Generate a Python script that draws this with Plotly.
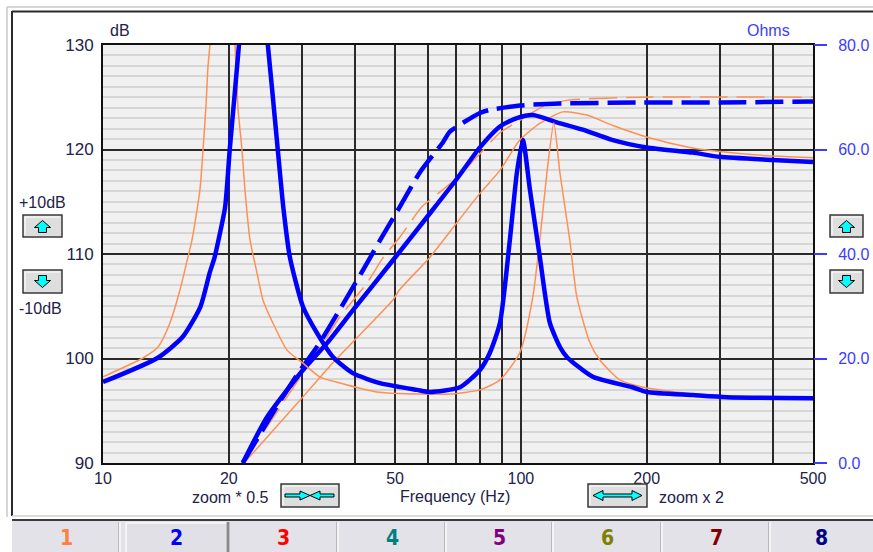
import math
import plotly.graph_objects as go

# ---------------- data ----------------
# Driver 2 (blue): impedance magnitude (Ohms)
imp_blue_f = [10, 13.5, 15.5, 17.1, 18.0, 18.5, 18.9, 19.6, 20.1, 20.7, 21.15, 22.8, 24.8, 25.4,
              26.2, 27.0, 28.0, 30.1, 32.5, 35.5, 39.6, 46.0, 56.4, 60.6, 71.5, 79.8, 84.3, 89.1,
              94.1, 97.8, 101.1, 105.1, 111.0, 117.3, 124.0, 128.8, 148.6, 185, 200, 258, 311, 500]
imp_blue_z = [15.5, 20.1, 24.1, 29.9, 36.4, 39.4, 42.7, 49.0, 59.9, 71.4, 80, 110, 80, 71.4,
              59.9, 49.0, 39.4, 29.9, 24.9, 20.3, 17.2, 15.3, 14.0, 13.6, 14.5, 17.8, 21.1, 26.8,
              42.7, 55.5, 61.8, 52.3, 39.4, 26.8, 22.2, 20.3, 16.5, 14.5, 13.6, 13.0, 12.6, 12.4]

# Driver 2 (blue): SPL, sealed (solid) and vented (dashed), dB
spl_blue_f = [21.6, 24.7, 30.1, 34.4, 39.6, 49.4, 60.6, 70.3, 79.8, 89.1, 97.8, 106.8, 121.9,
              140.6, 166, 200, 257.6, 299, 400, 500]
spl_blue_db = [90.0, 94.4, 98.9, 101.5, 104.6, 109.4, 113.9, 117.2, 120.2, 122.2, 123.0, 123.3,
               122.6, 121.9, 120.9, 120.2, 119.7, 119.3, 119.0, 118.8]
spl_blue_v_f = [21.6, 25.5, 29.1, 33.0, 38.3, 42.8, 46.0, 51.3, 57.3, 65.1, 67.6, 79.8, 84.3,
                99.4, 106.8, 124, 192.6, 299, 500]
spl_blue_v_db = [90.0, 94.8, 98.4, 101.5, 105.8, 109.1, 111.3, 114.5, 117.8, 120.7, 121.7, 123.5,
                 123.8, 124.2, 124.3, 124.4, 124.5, 124.5, 124.6]

# Driver 1 (orange): impedance magnitude (Ohms)
imp_orange_f = [10, 12.46, 13.54, 14.46, 15.28, 15.97, 16.33, 17.06, 17.35, 17.63, 17.83, 18.03,
                19.3, 20.69, 21.03, 21.51, 21.86, 22.48, 23.36, 24.14, 25.5, 27.56, 30.1, 33.0,
                36.9, 45.2, 57.3, 67.6, 79.8, 89.1, 99.4, 106.8, 111.0, 115.4, 119.9, 124.0,
                130.9, 136.1, 146.3, 154.5, 172.5, 195.9, 258, 311, 500]
imp_orange_z = [16.5, 20.1, 22.2, 26.8, 33.1, 39.4, 42.7, 52.3, 59.9, 68.1, 75.8, 80,
                105, 80, 68.1, 59.9, 52.3, 42.7, 36.4, 31.2, 26.8, 21.6, 19.1, 16.5,
                15.3, 13.6, 13.2, 13.2, 14.0, 15.9, 21.1, 31.8, 42.7, 55.5, 65.1, 55.5,
                42.7, 31.8, 23.0, 19.7, 15.9, 14.5, 13.2, 12.8, 12.5]

# Driver 1 (orange): SPL, sealed (solid) and vented (dashed), dB
spl_orange_f = [22.1, 29.6, 35.5, 49.4, 51.3, 60.6, 70.3, 79.8, 89.1, 99.4, 111.0, 126.0, 143.8,
                166, 200, 253.6, 299, 388, 440, 500]
spl_orange_db = [90.3, 96.0, 99.6, 105.6, 106.6, 109.7, 113.0, 115.8, 118.0, 120.9, 122.5, 123.6,
                 123.3, 122.3, 121.2, 120.2, 119.8, 119.4, 119.3, 119.2]
spl_orange_v_f = [21.6, 34.4, 36.9, 42.8, 46.7, 51.3, 55.2, 57.9, 69.5, 78.5, 89.1, 99.4, 112.9,
                  128.8, 192.6, 500]
spl_orange_v_db = [90.0, 102.1, 104.0, 107.2, 109.6, 111.6, 113.4, 114.5, 117.1, 119.3, 121.6,
                   122.8, 124.1, 124.7, 125.0, 125.0]

# axis ticks
freq_tickvals = [10, 20, 30, 40, 50, 60, 70, 80, 90, 100, 200, 300, 400, 500]
freq_ticktext = ["10", "20", "", "", "50", "", "", "", "", "100", "200", "", "", "500"]
db_tickvals = [90, 100, 110, 120, 130]
ohm_tickvals = [0, 20, 40, 60, 80]
ohm_ticktext = ["0.0", "20.0", "40.0", "60.0", "80.0"]
db_mid_lines = [95, 105, 115, 125]

tab_labels = ["1", "2", "3", "4", "5", "6", "7", "8"]
tab_colors = ["#ff8040", "#0000ff", "#ff0000", "#008080", "#800080", "#808000", "#800000", "#000080"]

# ---------------- geometry helpers ----------------
W, H = 873, 552
ML, MR, MT, MB = 103, 60, 45, 89
PW, PH = W - ML - MR, H - MT - MB


def px(x):
    return (x - ML) / PW


def py(y):
    return (H - MB - y) / PH


def path(points):
    return "M " + " L ".join(f"{px(x):.5f},{py(y):.5f}" for x, y in points) + " Z"


BLUE = "#0000ff"
ORANGE = "#ff9055"
FONT = "Liberation Sans, Arial, sans-serif"
TXT = "#22224a"
SMOOTH = 0.6

fig = go.Figure()

# orange (driver 1) first, blue (driver 2) on top
fig.add_trace(go.Scatter(x=imp_orange_f, y=imp_orange_z, yaxis="y2", mode="lines",
                         line=dict(color=ORANGE, width=1.5, shape="spline", smoothing=SMOOTH),
                         hoverinfo="skip"))
fig.add_trace(go.Scatter(x=spl_orange_f, y=spl_orange_db, mode="lines",
                         line=dict(color=ORANGE, width=1.5, shape="spline", smoothing=SMOOTH),
                         hoverinfo="skip"))
fig.add_trace(go.Scatter(x=spl_orange_v_f, y=spl_orange_v_db, mode="lines",
                         line=dict(color=ORANGE, width=1.5, dash="28px,9px", shape="spline",
                                   smoothing=SMOOTH), hoverinfo="skip"))
fig.add_trace(go.Scatter(x=imp_blue_f, y=imp_blue_z, yaxis="y2", mode="lines",
                         line=dict(color=BLUE, width=4.5, shape="spline", smoothing=SMOOTH),
                         hoverinfo="skip"))
fig.add_trace(go.Scatter(x=spl_blue_f, y=spl_blue_db, mode="lines",
                         line=dict(color=BLUE, width=4.5, shape="spline", smoothing=SMOOTH),
                         hoverinfo="skip"))
fig.add_trace(go.Scatter(x=spl_blue_v_f, y=spl_blue_v_db, mode="lines",
                         line=dict(color=BLUE, width=4.5, dash="28px,9px", shape="spline",
                                   smoothing=SMOOTH), hoverinfo="skip"))

shapes = []
# 5 dB intermediate grid lines
for v in db_mid_lines:
    shapes.append(dict(type="line", xref="paper", yref="y", x0=0, x1=1, y0=v, y1=v,
                       line=dict(color="#8e8e8e", width=1.5), layer="between"))

# window frame
shapes += [
    dict(type="line", xref="paper", yref="paper", x0=px(7), x1=px(873), y0=py(7), y1=py(7),
         line=dict(color="#c8c8c8", width=1.5)),
    dict(type="line", xref="paper", yref="paper", x0=px(7), x1=px(7), y0=py(7), y1=py(517),
         line=dict(color="#c8c8c8", width=1.5)),
    dict(type="line", xref="paper", yref="paper", x0=px(12), x1=px(873), y0=py(11.5), y1=py(11.5),
         line=dict(color="#2a2a2a", width=2)),
    dict(type="line", xref="paper", yref="paper", x0=px(12), x1=px(12), y0=py(11), y1=py(516),
         line=dict(color="#2a2a2a", width=2)),
    dict(type="line", xref="paper", yref="paper", x0=px(12), x1=px(873), y0=py(516), y1=py(516),
         line=dict(color="#d0d0d0", width=1.5)),
]

# tab strip
shapes.append(dict(type="rect", xref="paper", yref="paper", x0=px(12), x1=px(873),
                   y0=py(520), y1=py(553), fillcolor="#e2e2e8", line=dict(width=0)))
shapes.append(dict(type="line", xref="paper", yref="paper", x0=px(12), x1=px(873),
                   y0=py(520), y1=py(520), line=dict(color="#3a3a3a", width=2)))
tab_edges = [12, 120, 229, 338, 446, 553, 662, 770, 873]
for e in tab_edges[1:-1]:
    shapes.append(dict(type="line", xref="paper", yref="paper", x0=px(e), x1=px(e),
                       y0=py(522), y1=py(552), line=dict(color="#fafafa", width=1.5)))
    shapes.append(dict(type="line", xref="paper", yref="paper", x0=px(e - 1.5), x1=px(e - 1.5),
                       y0=py(522), y1=py(552), line=dict(color="#b8b8bc", width=1)))
# selected tab
shapes.append(dict(type="rect", xref="paper", yref="paper", x0=px(126), x1=px(227),
                   y0=py(523), y1=py(553), fillcolor="#e0e0e6",
                   line=dict(color="#fafafa", width=1.5)))
shapes.append(dict(type="line", xref="paper", yref="paper", x0=px(228), x1=px(228),
                   y0=py(522), y1=py(553), line=dict(color="#8a8a8a", width=3)))


def button(x0, y0, x1, y1):
    shapes.append(dict(type="rect", xref="paper", yref="paper", x0=px(x0), x1=px(x1),
                       y0=py(y0), y1=py(y1), fillcolor="#dedede",
                       line=dict(color="#3a3a3a", width=1.5)))
    shapes.append(dict(type="line", xref="paper", yref="paper", x0=px(x0 + 2), x1=px(x1 - 2),
                       y0=py(y0 + 2), y1=py(y0 + 2), line=dict(color="#ffffff", width=1)))
    shapes.append(dict(type="line", xref="paper", yref="paper", x0=px(x0 + 2), x1=px(x0 + 2),
                       y0=py(y0 + 2), y1=py(y1 - 2), line=dict(color="#ffffff", width=1)))


def arrow_shape(points):
    shapes.append(dict(type="path", xref="paper", yref="paper", path=path(points),
                       fillcolor="#00ffff", line=dict(color="#000000", width=1)))


def up_arrow(cx, cy):
    arrow_shape([(cx, cy - 6), (cx + 8, cy + 1), (cx + 4, cy + 1), (cx + 4, cy + 6),
                 (cx - 4, cy + 6), (cx - 4, cy + 1), (cx - 8, cy + 1)])


def down_arrow(cx, cy):
    arrow_shape([(cx, cy + 6), (cx + 8, cy - 1), (cx + 4, cy - 1), (cx + 4, cy - 6),
                 (cx - 4, cy - 6), (cx - 4, cy - 1), (cx - 8, cy - 1)])


# left and right level buttons
for bx0, bx1 in [(23, 62), (830, 863)]:
    button(bx0, 215, bx1, 237)
    up_arrow((bx0 + bx1) / 2, 226.5)
    button(bx0, 270, bx1, 293)
    down_arrow((bx0 + bx1) / 2, 281.5)

# zoom * 0.5 button: two arrows pointing inward
button(281, 484, 339, 507)
cy = 495.5
arrow_shape([(285, cy - 1.5), (300, cy - 1.5), (300, cy - 4.5), (310, cy), (300, cy + 4.5),
             (300, cy + 1.5), (285, cy + 1.5)])
arrow_shape([(334, cy - 1.5), (320, cy - 1.5), (320, cy - 4.5), (310, cy), (320, cy + 4.5),
             (320, cy + 1.5), (334, cy + 1.5)])

# zoom x 2 button: double-headed arrow
button(588, 484, 647, 507)
arrow_shape([(593, cy), (603, cy - 5), (603, cy - 1.5), (632, cy - 1.5), (632, cy - 5), (642, cy),
             (632, cy + 5), (632, cy + 1.5), (603, cy + 1.5), (603, cy + 5)])

annotations = []


def text(x, y, s, color=TXT, size=16, family=FONT, anchor="center", bold=False):
    annotations.append(dict(xref="paper", yref="paper", x=px(x), y=py(y),
                            text=f"<b>{s}</b>" if bold else s,
                            showarrow=False, xanchor=anchor, yanchor="middle",
                            font=dict(size=size, color=color, family=family)))


text(108, 31, "dB", anchor="left")
text(745, 31, "Ohms", color="#3c3cff", anchor="left")
text(455, 496, "Frequency (Hz)")
text(271, 497, "zoom * 0.5", anchor="right")
text(657, 497, "zoom x 2", anchor="left")
text(17, 202, "+10dB", anchor="left")
text(17, 308, "-10dB", anchor="left")

for i, (lab, col) in enumerate(zip(tab_labels, tab_colors)):
    cx = (tab_edges[i] + tab_edges[i + 1]) / 2 + (2 if i == 1 else 0)
    text(cx, 538, lab, color=col, size=21,
         family="Liberation Sans Narrow, DejaVu Sans Condensed, Arial Narrow, sans-serif", bold=True)

fig.update_layout(
    width=W, height=H,
    margin=dict(l=ML, r=MR, t=MT, b=MB, autoexpand=False),
    paper_bgcolor="#ffffff",
    plot_bgcolor="#f0f0f0",
    showlegend=False,
    font=dict(family=FONT, size=16, color=TXT),
    xaxis=dict(type="log", range=[1, math.log10(500)], tickvals=freq_tickvals,
               ticktext=freq_ticktext, showgrid=True, gridcolor="#2a2a2a", gridwidth=2,
               showline=True, mirror=True, linecolor="#111111", linewidth=2, ticks="",
               zeroline=False, tickfont=dict(size=16, color=TXT), ticklabelstandoff=0,
               automargin=False, fixedrange=True),
    yaxis=dict(range=[90, 130], tickvals=db_tickvals, showgrid=True, gridcolor="#2a2a2a",
               gridwidth=2, showline=True, mirror=True, linecolor="#111111", linewidth=2,
               ticks="", zeroline=False, tickfont=dict(size=17, color=TXT), ticklabelstandoff=4,
               minor=dict(dtick=1, tick0=90, showgrid=True, gridcolor="#d6d6d6", gridwidth=2),
               automargin=False, fixedrange=True),
    yaxis2=dict(range=[0, 80], overlaying="y", side="right", tickvals=ohm_tickvals,
                ticktext=ohm_ticktext, showgrid=False, zeroline=False, ticks="outside",
                ticklen=13, tickwidth=2, tickcolor="#3c3cff",
                tickfont=dict(size=16, color="#3c3cff"), ticklabelstandoff=8,
                automargin=False, fixedrange=True),
    shapes=shapes,
    annotations=annotations,
)

fig.write_html("out.html")
